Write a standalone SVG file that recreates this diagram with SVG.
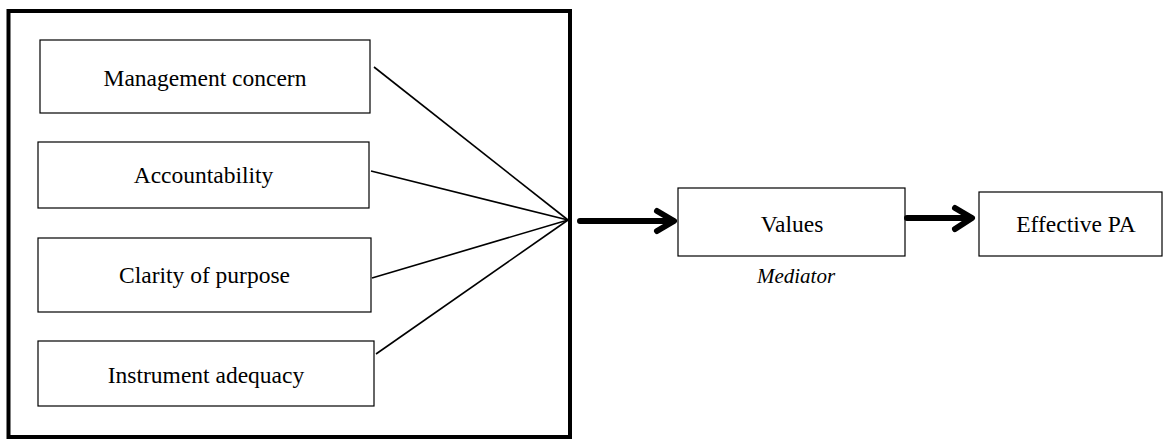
<svg xmlns="http://www.w3.org/2000/svg" width="1163" height="439" viewBox="0 0 1163 439">
<style>
.box{fill:#fff;stroke:#000;stroke-width:1.2}
.lbl{font-family:"Liberation Serif","Times New Roman",serif;font-size:23.5px;fill:#000;text-anchor:middle}
.it{font-style:italic;font-size:21px}
.ln{stroke:#000;stroke-width:1.6;fill:none}
.arr{stroke:#000;stroke-width:6;fill:none;stroke-linecap:round;stroke-linejoin:round}
</style>
<rect width="1163" height="439" fill="#fff"/>
<g id="frame"><rect x="8.5" y="11" width="561.5" height="426" fill="none" stroke="#000" stroke-width="4"/></g>
<g id="n-management"><rect class="box" x="40" y="40" width="330" height="73"/><text class="lbl" x="205" y="86">Management concern</text></g>
<g id="n-accountability"><rect class="box" x="38" y="142" width="331" height="66"/><text class="lbl" x="203.5" y="183">Accountability</text></g>
<g id="n-clarity"><rect class="box" x="38" y="238" width="333" height="74"/><text class="lbl" x="204.5" y="283">Clarity of purpose</text></g>
<g id="n-instrument"><rect class="box" x="38" y="341" width="336" height="65"/><text class="lbl" x="206" y="383">Instrument adequacy</text></g>
<g id="n-values"><rect class="box" x="678" y="188" width="227" height="68"/><text class="lbl" x="792" y="232">Values</text><text class="lbl it" x="796" y="283">Mediator</text></g>
<g id="n-effective"><rect class="box" x="979" y="192" width="183" height="64"/><text class="lbl" x="1076" y="232">Effective PA</text></g>
<g id="connectors">
<line class="ln" x1="374" y1="67" x2="568" y2="220"/>
<line class="ln" x1="371" y1="171" x2="568" y2="220"/>
<line class="ln" x1="372" y1="278" x2="568" y2="220"/>
<line class="ln" x1="376" y1="354" x2="568" y2="220"/>
<path class="arr" d="M580 221 H673 M657 211 L674 221 L657 231"/>
<path class="arr" d="M907 218 H971 M955 208 L972 218 L955 229"/>
</g>
</svg>
